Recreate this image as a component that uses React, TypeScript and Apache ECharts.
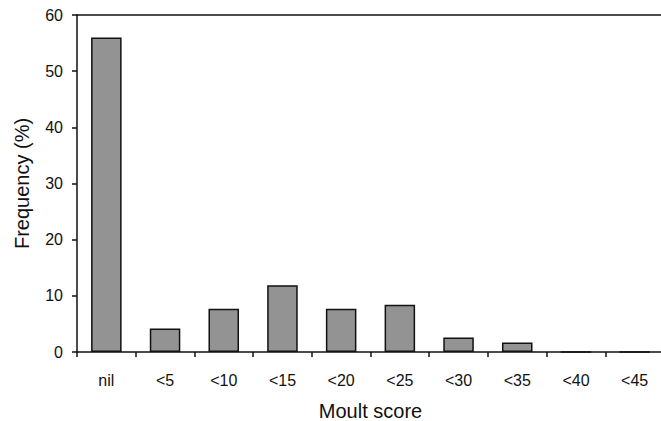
import React, { useEffect, useRef } from "react";
import * as echarts from "echarts";

const categories = ["nil", "<5", "<10", "<15", "<20", "<25", "<30", "<35", "<40", "<45"];
const frequency = [56, 4.2, 7.7, 11.9, 7.7, 8.4, 2.6, 1.7, 0, 0];
const yTicks = { min: 0, max: 60, interval: 10 };

const FONT = "'Liberation Sans', Arial, sans-serif";

export default function App() {
  const ref = useRef<HTMLDivElement>(null);
  useEffect(() => {
    document.body.style.margin = "0";
    const chart = echarts.init(ref.current!, undefined, { renderer: "svg" });
    chart.setOption({
      animation: false,
      backgroundColor: "#ffffff",
      textStyle: { fontFamily: FONT },
      grid: { left: 77, top: 15, width: 587, bottom: 69, containLabel: false, outerBoundsMode: "none" },
      xAxis: [
        {
          type: "category",
          data: categories,
          name: "Moult score",
          nameLocation: "middle",
          nameGap: 50,
          nameTextStyle: { fontSize: 20, lineHeight: 18, color: "#111", fontFamily: FONT },
          axisLine: { show: true, lineStyle: { color: "#111", width: 1.5 } },
          axisTick: { show: true, length: 5, inside: false, lineStyle: { color: "#111", width: 1.5 } },
          axisLabel: { margin: 20, fontSize: 16, color: "#111", fontFamily: FONT },
        },
        {
          type: "category",
          data: categories,
          position: "top",
          axisLine: { show: true, onZero: false, lineStyle: { color: "#111", width: 1.5 } },
          axisTick: { show: false },
          axisLabel: { show: false },
        },
      ],
      yAxis: {
        type: "value",
        min: yTicks.min,
        max: yTicks.max,
        interval: yTicks.interval,
        name: "Frequency (%)",
        nameLocation: "middle",
        nameGap: 45,
        nameTextStyle: { fontSize: 20, color: "#111", fontFamily: FONT },
        splitLine: { show: false },
        axisLine: { show: true, lineStyle: { color: "#111", width: 1.5 } },
        axisTick: { show: true, length: 5, lineStyle: { color: "#111", width: 1.5 } },
        axisLabel: { margin: 14, fontSize: 16, color: "#111", fontFamily: FONT },
      },
      series: [
        {
          type: "bar",
          data: frequency,
          barWidth: "52%",
          itemStyle: { color: "#939393", borderColor: "#111", borderWidth: 1.5 },
        },
      ],
    });
    return () => chart.dispose();
  }, []);
  return <div ref={ref} style={{ width: 661, height: 421 }} />;
}
